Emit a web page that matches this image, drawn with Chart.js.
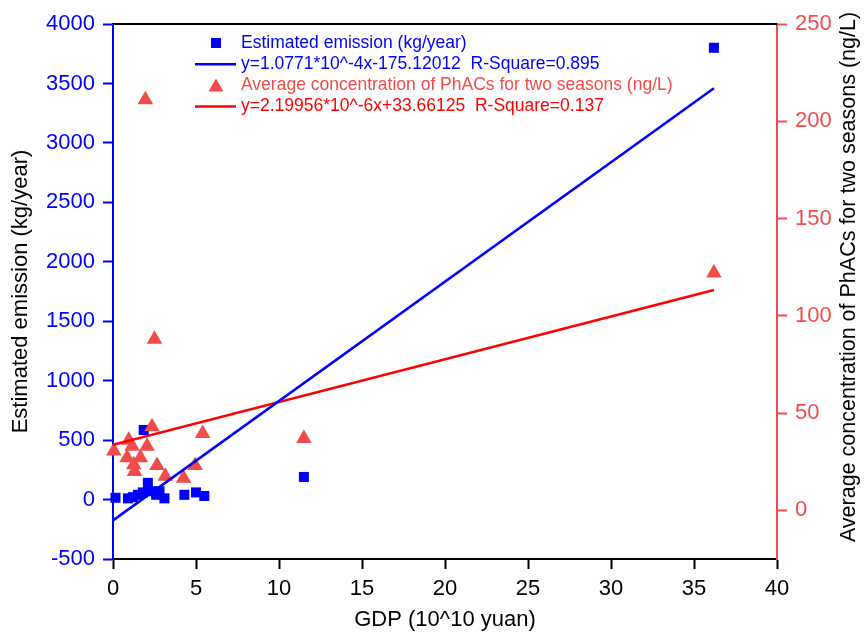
<!DOCTYPE html>
<html>
<head>
<meta charset="utf-8">
<script src="https://cdn.jsdelivr.net/npm/chart.js@4/dist/chart.umd.min.js"></script>
<style>
  html, body { margin: 0; padding: 0; background: #fff; }
  #wrap { width: 866px; height: 637px; }
</style>
</head>
<body>
<div id="wrap"><canvas id="gdpChart" width="866" height="637"></canvas></div>
<script>
// GDP (10^10 yuan) vs estimated emission (kg/year)
const gdpEmision = [0.15, 0.9, 1.2, 1.5, 1.85, 1.8, 2.1, 2.3, 2.6, 2.8, 3.1, 4.3, 5.0, 5.5, 11.5, 36.2];
const emision = [15, 10, 20, 40, 585, 60, 140, 70, 40, 70, 10, 40, 60, 30, 190, 3800];

// GDP vs average concentration of PhACs (ng/L), right axis
const gdpConc = [0.05, 0.95, 1.15, 0.85, 1.65, 1.25, 1.3, 2.05, 2.35, 1.95, 2.5, 2.65, 3.15, 4.25, 4.95, 5.4, 11.5, 36.2];
const concentracion = [30.5, 36, 33, 27, 27, 23.5, 20, 33, 43, 211, 88, 23, 17.5, 16.5, 23, 39.5, 37, 122];

// extremos de las rectas de ajuste
const ajusteX = [0, 36.2];
const ajusteEmision = [-175.1, 3460];
const ajusteConc = [33.66, 113.3];

const ticksX = [0, 5, 10, 15, 20, 25, 30, 35, 40];
const ticksIzq = [-500, 0, 500, 1000, 1500, 2000, 2500, 3000, 3500, 4000];
const ticksDer = [0, 50, 100, 150, 200, 250];

const leyenda = [
  { tipo: 'rect', color: '#0000FF', texto: 'Estimated emission (kg/year)' },
  { tipo: 'linea', color: '#0000FF', texto: 'y=1.0771*10^-4x-175.12012  R-Square=0.895' },
  { tipo: 'triangle', color: '#F24B4B', texto: 'Average concentration of PhACs for two seasons (ng/L)' },
  { tipo: 'linea', color: '#FF0000', texto: 'y=2.19956*10^-6x+33.66125  R-Square=0.137' }
];

const tituloDer = 'Average concentration of PhACs for two seasons (ng/L)';

const AZUL = '#0000FF';
const ROJO = '#F24B4B';
const FUENTE = "'Liberation Sans', Arial, sans-serif";

function puntos(xs, ys) {
  return xs.map((x, i) => ({ x: x, y: ys[i] }));
}

function fijarTicks(valores) {
  return function (scale) {
    scale.ticks = valores.map(v => ({ value: v }));
  };
}

// borde superior, titulo derecho y leyenda dentro del area del grafico
const extras = {
  id: 'extras',
  afterDraw(chart) {
    const ctx = chart.ctx;
    const a = chart.chartArea;
    ctx.save();
    ctx.strokeStyle = '#000';
    ctx.lineWidth = 2;
    ctx.beginPath();
    ctx.moveTo(a.left, a.top);
    ctx.lineTo(a.right, a.top);
    ctx.stroke();

    // titulo del eje derecho, leido de abajo hacia arriba
    ctx.save();
    ctx.translate(849, 277);
    ctx.rotate(-Math.PI / 2);
    ctx.font = '21.5px ' + FUENTE;
    ctx.fillStyle = '#000';
    ctx.textAlign = 'center';
    ctx.textBaseline = 'middle';
    ctx.fillText(tituloDer, 0, 0);
    ctx.restore();

    ctx.font = '17.5px ' + FUENTE;
    ctx.textBaseline = 'middle';
    ctx.textAlign = 'left';
    const x0 = 216, xt = 241, y0 = 43, paso = 21.2;
    leyenda.forEach((item, i) => {
      const y = y0 + i * paso;
      ctx.fillStyle = item.color;
      ctx.strokeStyle = item.color;
      if (item.tipo === 'rect') {
        ctx.fillRect(x0 - 5, y - 5, 10, 10);
      } else if (item.tipo === 'triangle') {
        ctx.beginPath();
        ctx.moveTo(x0, y - 7);
        ctx.lineTo(x0 + 7.5, y + 6);
        ctx.lineTo(x0 - 7.5, y + 6);
        ctx.closePath();
        ctx.fill();
      } else {
        ctx.lineWidth = 2.5;
        ctx.beginPath();
        ctx.moveTo(195, y);
        ctx.lineTo(236, y);
        ctx.stroke();
      }
      ctx.fillStyle = item.color;
      ctx.fillText(item.texto, xt, y);
    });
    ctx.restore();
  }
};

const ctx = document.getElementById('gdpChart');

new Chart(ctx, {
  type: 'scatter',
  data: {
    datasets: [
      {
        label: 'Ajuste emision',
        data: puntos(ajusteX, ajusteEmision),
        showLine: true,
        borderColor: AZUL,
        borderWidth: 2.5,
        pointRadius: 0,
        yAxisID: 'y',
        order: 0
      },
      {
        label: 'Ajuste concentracion',
        data: puntos(ajusteX, ajusteConc),
        showLine: true,
        borderColor: '#FF0000',
        borderWidth: 2.5,
        pointRadius: 0,
        yAxisID: 'y2',
        order: 0
      },
      {
        label: 'Average concentration of PhACs for two seasons (ng/L)',
        data: puntos(gdpConc, concentracion),
        pointStyle: 'triangle',
        pointRadius: 9,
        backgroundColor: ROJO,
        borderColor: ROJO,
        borderWidth: 0,
        yAxisID: 'y2',
        clip: false,
        order: 1
      },
      {
        label: 'Estimated emission (kg/year)',
        data: puntos(gdpEmision, emision),
        pointStyle: 'rect',
        pointRadius: 7.1,
        backgroundColor: AZUL,
        borderColor: AZUL,
        borderWidth: 0,
        yAxisID: 'y',
        clip: false,
        order: 2
      }
    ]
  },
  options: {
    responsive: false,
    animation: false,
    layout: { padding: { top: 24, left: 0, right: 0, bottom: 0 } },
    plugins: {
      legend: { display: false },
      tooltip: { enabled: false }
    },
    scales: {
      x: {
        type: 'linear',
        min: 0,
        max: 40,
        afterBuildTicks: fijarTicks(ticksX),
        afterFit(s) { s.height = 78; },
        ticks: { color: '#000', font: { size: 22, family: FUENTE }, padding: 7, callback: v => String(v) },
        grid: { drawOnChartArea: false, tickLength: 10, tickColor: '#000', tickWidth: 2 },
        border: { color: '#000', width: 2 },
        title: {
          display: true,
          text: 'GDP (10^10 yuan)',
          color: '#000',
          font: { size: 22, family: FUENTE },
          padding: { top: 0, bottom: 4 }
        }
      },
      y: {
        type: 'linear',
        position: 'left',
        min: -500,
        max: 4000,
        afterBuildTicks: fijarTicks(ticksIzq),
        afterFit(s) { s.width = 113; },
        ticks: { color: AZUL, font: { size: 22, family: FUENTE }, padding: 8, callback: v => String(v) },
        grid: { drawOnChartArea: false, tickLength: 10, tickColor: AZUL, tickWidth: 2 },
        border: { color: AZUL, width: 2 },
        title: {
          display: true,
          text: 'Estimated emission (kg/year)',
          color: '#000',
          font: { size: 22, family: FUENTE },
          padding: { top: 8, bottom: 0 }
        }
      },
      y2: {
        type: 'linear',
        position: 'right',
        min: -25,
        max: 250,
        afterBuildTicks: fijarTicks(ticksDer),
        afterFit(s) { s.width = 89; },
        ticks: { color: ROJO, font: { size: 22, family: FUENTE }, padding: 8, callback: v => String(v) },
        grid: { drawOnChartArea: false, tickLength: 10, tickColor: ROJO, tickWidth: 2 },
        border: { color: ROJO, width: 2 },
        title: { display: false }
      }
    }
  },
  plugins: [extras]
});
</script>
</body>
</html>
